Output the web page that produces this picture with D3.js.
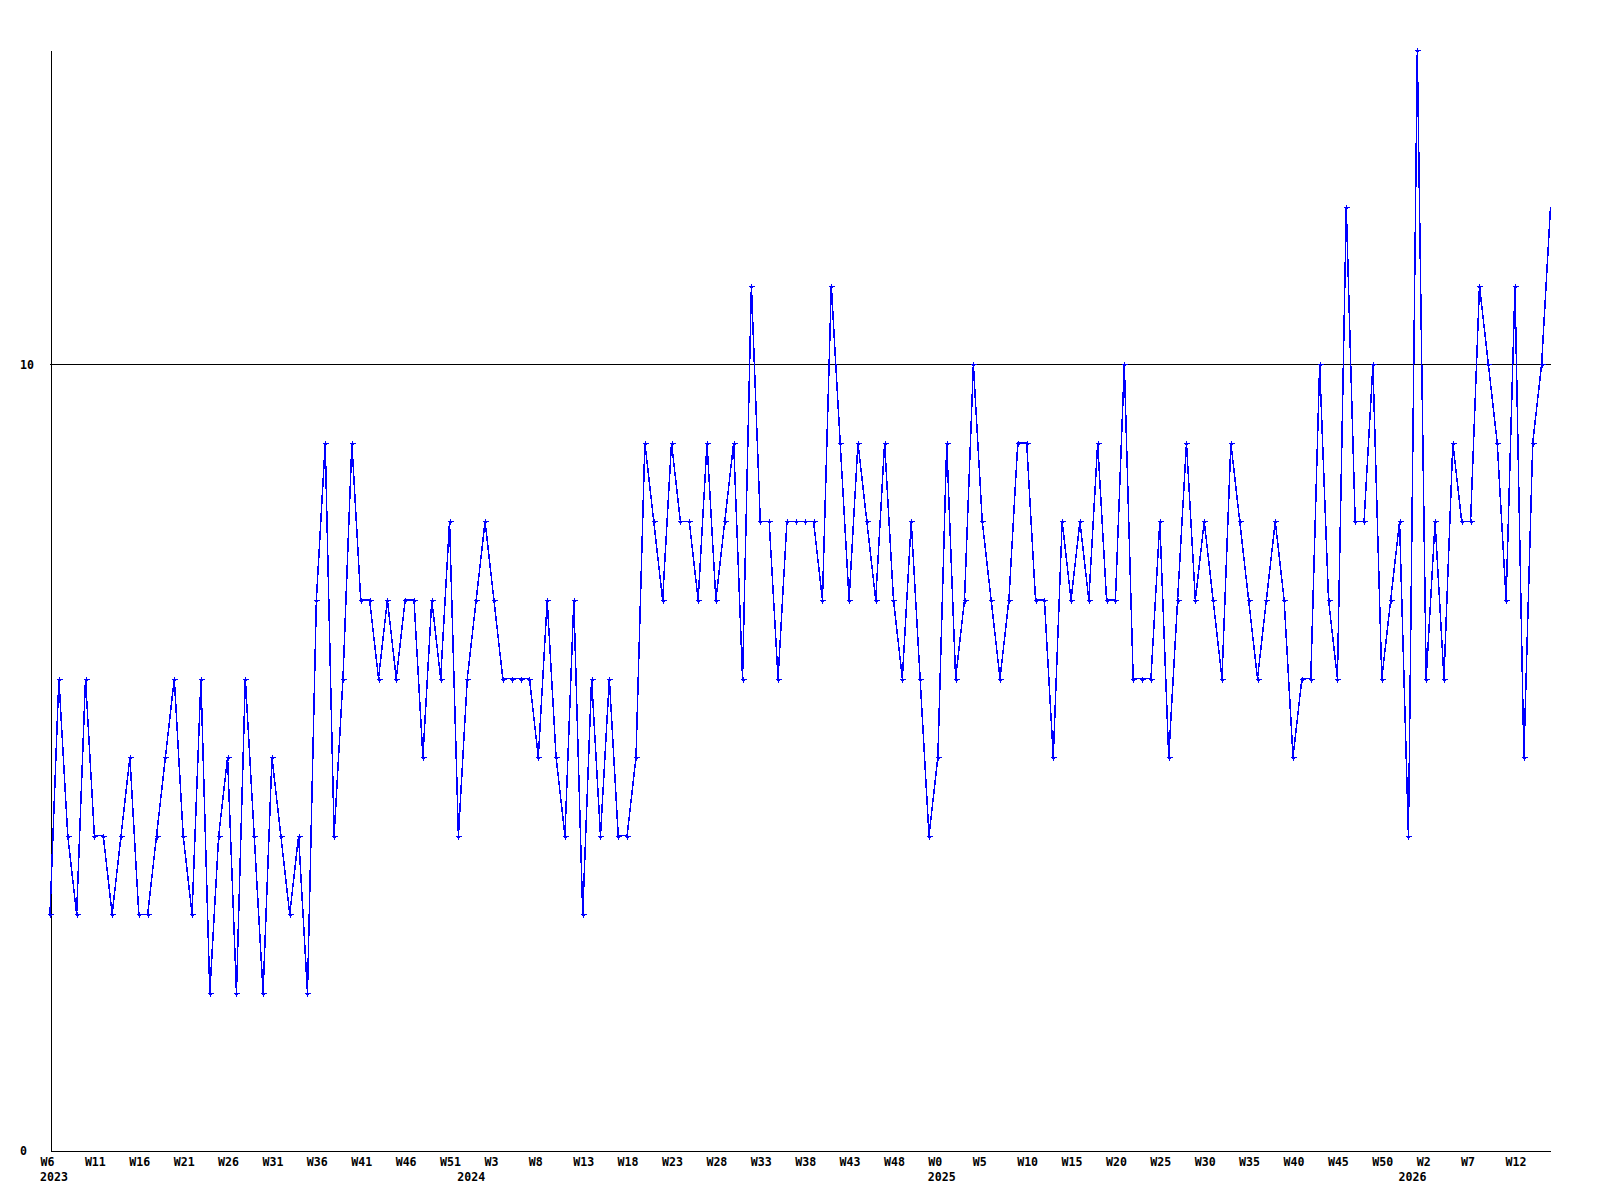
<!DOCTYPE html>
<html>
<head>
<meta charset="utf-8">
<script src="https://cdn.jsdelivr.net/npm/d3@7"></script>
<style>
  html, body { margin: 0; padding: 0; background: #fff; }
  svg { display: block; }
  text { font-family: "DejaVu Sans Mono", monospace; font-weight: bold; font-size: 11.6px; fill: #000; }
</style>
</head>
<body>
<svg id="chart" width="1600" height="1200"></svg>
<script>
// ---- data ----
const values = [
  3,6,4,3,6,4,4,3,4,5,3,3,4,5,6,4,3,6,2,4,5,2,
  6,4,2,5,4,3,4,2,7,9,4,6,9,7,7,6,7,6,7,7,5,7,
  6,8,4,6,7,8,7,6,6,6,6,5,7,5,4,7,3,6,4,6,4,
  4,5,9,8,7,9,8,8,7,9,7,8,9,6,11,8,8,6,8,8,8,8,
  7,11,9,7,9,8,7,9,7,6,8,6,4,5,9,6,7,10,8,7,6,
  7,9,9,7,7,5,8,7,8,7,9,7,7,10,6,6,6,8,5,7,9,
  7,8,7,6,9,8,7,6,7,8,7,5,6,6,10,7,6,12,8,8,10,6,
  7,8,4,14,6,8,6,9,8,8,11,10,9,7,11,5,9,10,12
];
const tickLabels = ["W6","W11","W16","W21","W26","W31","W36","W41","W46","W51",
  "W3","W8","W13","W18","W23","W28","W33","W38","W43","W48",
  "W0","W5","W10","W15","W20","W25","W30","W35","W40","W45",
  "W50","W2","W7","W12"];
const tickIndex = tickLabels.map((_, i) => i * 5);
const yearLabels = ["2023","2024","2025","2026"];
const yearIndex = [0, 47, 100, 153];
const yTicks = [0, 10];

// ---- chart ----
const svg = d3.select("#chart");
const x = d3.scaleLinear().domain([0, values.length - 1]).range([50, 1550.5]);
const y = d3.scaleLinear().domain([0, 14]).range([1150, 50]);

// reference line at 10
svg.append("line")
  .attr("x1", 50).attr("x2", 1550.5)
  .attr("y1", Math.round(y(10)) + 0.5).attr("y2", Math.round(y(10)) + 0.5)
  .attr("stroke", "#000").attr("stroke-width", 1)
  .attr("shape-rendering", "crispEdges");

// left axis
const gy = svg.append("g").attr("transform", "translate(50.5,0)")
  .call(d3.axisLeft(y).tickValues(yTicks).tickSize(0).tickSizeOuter(0).tickFormat(d3.format("d")));
gy.select(".domain").attr("stroke", "#000").attr("shape-rendering", "crispEdges");
gy.selectAll(".tick text")
  .attr("x", -30.5).attr("dy", "0.35em").attr("text-anchor", "start");

// bottom axis
const gx = svg.append("g").attr("transform", "translate(0,1150.5)")
  .call(d3.axisBottom(x).tickValues(tickIndex).tickSize(0).tickSizeOuter(0)
    .tickFormat((d, i) => tickLabels[i]));
gx.select(".domain").attr("stroke", "#000").attr("shape-rendering", "crispEdges");
gx.selectAll(".tick text")
  .attr("x", -10).attr("y", 15.5).attr("dy", 0).attr("text-anchor", "start");
gy.attr("font-family", null).attr("font-size", null);
gx.attr("font-family", null).attr("font-size", null);

// year labels
svg.append("g").selectAll("text").data(yearLabels).join("text")
  .attr("x", (d, i) => x(yearIndex[i]) - 10)
  .attr("y", 1181)
  .text(d => d);

// data line
const line = d3.line().x((d, i) => x(i)).y(d => y(d));
svg.append("path")
  .datum(values)
  .attr("d", line)
  .attr("fill", "none")
  .attr("stroke", "#0000ff")
  .attr("stroke-width", 1.5)
  .attr("shape-rendering", "crispEdges");

// markers (+), last point has none in the reference
const pts = values.slice(0, values.length - 1);
const mk = svg.append("g").selectAll("g").data(pts).join("g")
  .attr("transform", (d, i) => `translate(${Math.round(x(i))},${Math.round(y(d))})`);
mk.append("path")
  .attr("d", "M-2.5,0.5H3.5M0.5,-2.5V3.5")
  .attr("stroke", "#0000ff").attr("stroke-width", 1)
  .attr("fill", "none").attr("shape-rendering", "crispEdges");
mk.append("rect")
  .attr("x", -1).attr("y", -0.5).attr("width", 3).attr("height", 2)
  .attr("fill", "#0000ff").attr("shape-rendering", "crispEdges");
</script>
</body>
</html>
